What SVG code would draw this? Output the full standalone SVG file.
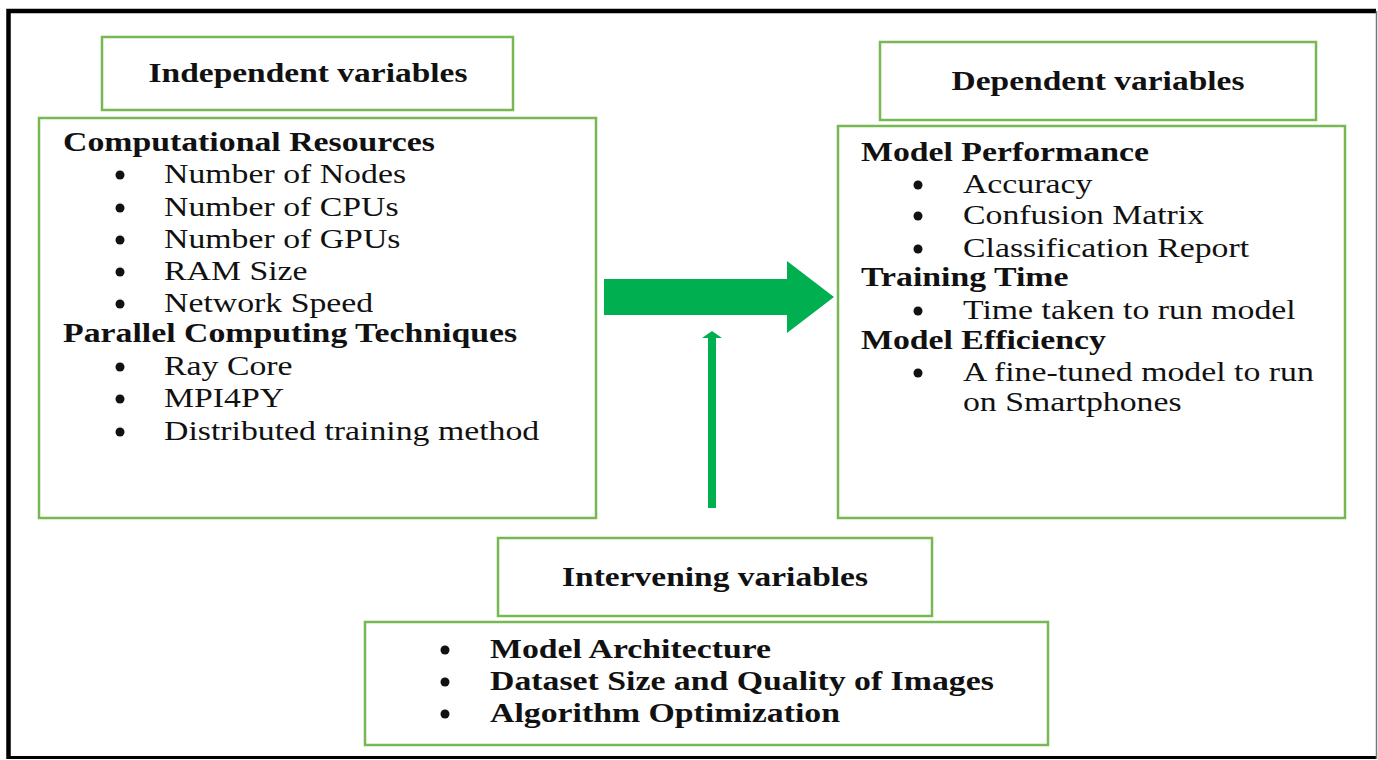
<svg xmlns="http://www.w3.org/2000/svg" width="1378" height="760" viewBox="0 0 1378 760">
  <style>
    .box { fill: #ffffff; stroke: #76B852; stroke-width: 2.5; }
    .head { font-family: "Liberation Serif", "Times New Roman", serif; font-weight: bold; font-size: 27px; fill: #111111; text-anchor: middle; }
    .bold { font-family: "Liberation Serif", "Times New Roman", serif; font-weight: bold; font-size: 28px; fill: #111111; }
    .item { font-family: "Liberation Serif", "Times New Roman", serif; font-size: 28px; fill: #111111; }
    .dot { fill: #111111; }
    .flow { fill: #00B050; }
  </style>

  <rect x="0" y="0" width="1378" height="760" fill="#ffffff"/>

  <!-- outer frame -->
  <g id="frame">
    <path d="M8.5 759 V11 H1376" fill="none" stroke="#000000" stroke-width="4.5"/>
    <line x1="8" y1="757.5" x2="1377" y2="757.5" stroke="#000000" stroke-width="3"/>
    <line x1="1376.5" y1="11" x2="1376.5" y2="759" stroke="#777777" stroke-width="1.5"/>
  </g>

  <!-- independent variables -->
  <g id="independent-title">
    <rect class="box" x="102" y="37" width="411" height="73"/>
    <g transform="translate(308 82) scale(1.24 1)">
      <text class="head" x="0" y="0">Independent variables</text>
    </g>
  </g>
  <g id="independent-list">
    <rect class="box" x="39" y="118" width="557" height="400"/>
    <g class="dot">
      <circle cx="120" cy="175" r="4.5"/>
      <circle cx="120" cy="208" r="4.5"/>
      <circle cx="120" cy="240" r="4.5"/>
      <circle cx="120" cy="272" r="4.5"/>
      <circle cx="120" cy="304" r="4.5"/>
      <circle cx="120" cy="367" r="4.5"/>
      <circle cx="120" cy="399" r="4.5"/>
      <circle cx="120" cy="432" r="4.5"/>
    </g>
    <g transform="translate(63 0) scale(1.207 1)">
      <text class="bold" x="0" y="151">Computational Resources</text>
      <text class="item" x="83.7" y="183">Number of Nodes</text>
      <text class="item" x="83.7" y="216">Number of CPUs</text>
      <text class="item" x="83.7" y="248">Number of GPUs</text>
      <text class="item" x="83.7" y="280">RAM Size</text>
      <text class="item" x="83.7" y="312">Network Speed</text>
      <text class="bold" x="0" y="342">Parallel Computing Techniques</text>
      <text class="item" x="83.7" y="375">Ray Core</text>
      <text class="item" x="83.7" y="407">MPI4PY</text>
      <text class="item" x="83.7" y="440">Distributed training method</text>
    </g>
  </g>

  <!-- dependent variables -->
  <g id="dependent-title">
    <rect class="box" x="880" y="42" width="436" height="78"/>
    <g transform="translate(1098 90) scale(1.24 1)">
      <text class="head" x="0" y="0">Dependent variables</text>
    </g>
  </g>
  <g id="dependent-list">
    <rect class="box" x="838" y="126" width="507" height="392"/>
    <g class="dot">
      <circle cx="918" cy="185" r="4.5"/>
      <circle cx="918" cy="216" r="4.5"/>
      <circle cx="918" cy="249" r="4.5"/>
      <circle cx="918" cy="311" r="4.5"/>
      <circle cx="918" cy="373" r="4.5"/>
    </g>
    <g transform="translate(861 0) scale(1.207 1)">
      <text class="bold" x="0" y="161">Model Performance</text>
      <text class="item" x="84.5" y="193">Accuracy</text>
      <text class="item" x="84.5" y="224">Confusion Matrix</text>
      <text class="item" x="84.5" y="257">Classification Report</text>
      <text class="bold" x="0" y="286">Training Time</text>
      <text class="item" x="84.5" y="319">Time taken to run model</text>
      <text class="bold" x="0" y="349">Model Efficiency</text>
      <text class="item" x="84.5" y="381">A fine-tuned model to run</text>
      <text class="item" x="84.5" y="411">on Smartphones</text>
    </g>
  </g>

  <!-- intervening variables -->
  <g id="intervening-title">
    <rect class="box" x="498" y="538" width="434" height="78"/>
    <g transform="translate(715 586) scale(1.24 1)">
      <text class="head" x="0" y="0">Intervening variables</text>
    </g>
  </g>
  <g id="intervening-list">
    <rect class="box" x="365" y="622" width="683" height="123"/>
    <g class="dot">
      <circle cx="445" cy="650" r="4.5"/>
      <circle cx="445" cy="682" r="4.5"/>
      <circle cx="445" cy="714" r="4.5"/>
    </g>
    <g transform="translate(490 0) scale(1.207 1)">
      <text class="bold" x="0" y="658">Model Architecture</text>
      <text class="bold" x="0" y="690">Dataset Size and Quality of Images</text>
      <text class="bold" x="0" y="722">Algorithm Optimization</text>
    </g>
  </g>

  <!-- connectors -->
  <g id="connectors">
    <polygon class="flow" points="604,279 787,279 787,261 834,297 787,333 787,315 604,315"/>
    <polygon class="flow" points="708,508 716,508 716,338 722,338 712,331 702,338 708,338"/>
  </g>
</svg>
